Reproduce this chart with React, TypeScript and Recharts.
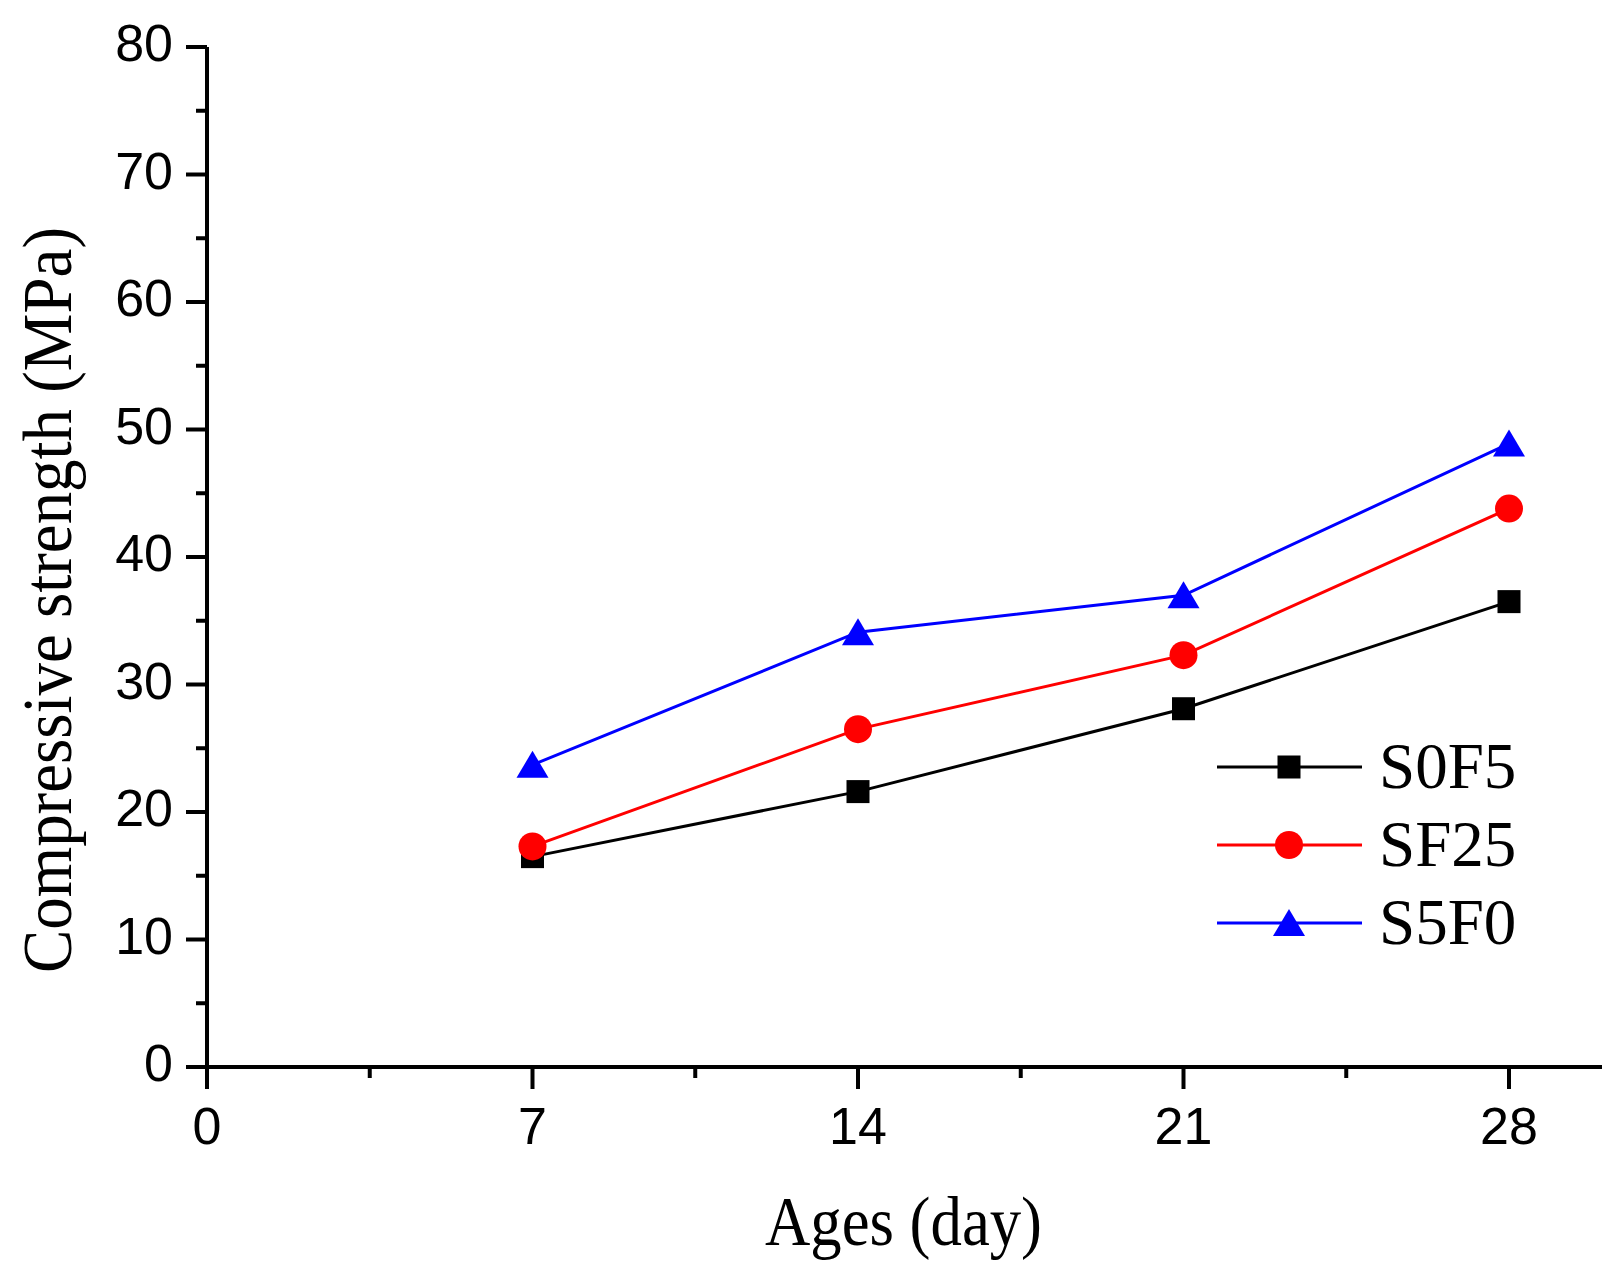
import React from 'react';
import { LineChart, Line, XAxis, YAxis, Legend, Label } from 'recharts';

const ages = [7, 14, 21, 28];
const s0f5 = [16.5, 21.6, 28.1, 36.5];
const sf25 = [17.3, 26.5, 32.3, 43.8];
const s5f0 = [23.7, 34.1, 37.0, 48.9];

const xTicks = [0, 3.5, 7, 10.5, 14, 17.5, 21, 24.5, 28];
const xLabels = [0, 7, 14, 21, 28];
const yTicks = [0, 5, 10, 15, 20, 25, 30, 35, 40, 45, 50, 55, 60, 65, 70, 75, 80];
const yLabels = [0, 10, 20, 30, 40, 50, 60, 70, 80];

const data = ages.map((age, i) => ({
    age,
    S0F5: s0f5[i],
    SF25: sf25[i],
    S5F0: s5f0[i],
}));

const sans = '"Liberation Sans", Arial, sans-serif';
const serif = '"Liberation Serif", "Times New Roman", serif';

const Marker = ({ kind, cx, cy, color }: { kind: string; cx: number; cy: number; color: string }) => {
    if (kind === 'square') return <rect x={cx - 11.5} y={cy - 11.5} width={23} height={23} fill={color} />;
    if (kind === 'circle') return <circle cx={cx} cy={cy} r={14} fill={color} />;
    return <polygon points={`${cx},${cy - 14} ${cx + 16},${cy + 13} ${cx - 16},${cy + 13}`} fill={color} />;
};

const series = [
    { key: 'S0F5', color: '#000000', kind: 'square' },
    { key: 'SF25', color: '#ff0000', kind: 'circle' },
    { key: 'S5F0', color: '#0000ff', kind: 'triangle' },
];

const XTick = (props: any) => {
    const { x, y, payload } = props;
    const major = xLabels.includes(payload.value);
    return (
        <g>
            <line x1={x} x2={x} y1={y} y2={y + (major ? 22 : 11)} stroke="#000" strokeWidth={4} />
            {major && (
                <text x={x} y={y + 77} textAnchor="middle" fontFamily={sans} fontSize={52} fill="#000">
                    {payload.value}
                </text>
            )}
        </g>
    );
};

const YTick = (props: any) => {
    const { x, y, payload } = props;
    const major = yLabels.includes(payload.value);
    return (
        <g>
            <line x1={x} x2={x - (major ? 21 : 11)} y1={y} y2={y} stroke="#000" strokeWidth={4} />
            {major && (
                <text x={x - 34} y={y + 14} textAnchor="end" fontFamily={sans} fontSize={52} fill="#000">
                    {payload.value}
                </text>
            )}
        </g>
    );
};

// legend drawn in series order, not alphabetical
const LegendBox = (props: any) => {
    const { payload = [] } = props;
    const items = series.filter((s) => payload.some((p: any) => p.value === s.key));
    return (
        <svg width={340} height={240} style={{ display: 'block', overflow: 'visible' }}>
            {items.map((s, i) => {
                const cy = 20 + i * 78;
                return (
                    <g key={s.key}>
                        <line x1={0} x2={145} y1={cy} y2={cy} stroke={s.color} strokeWidth={3} />
                        <Marker kind={s.kind} cx={72} cy={cy} color={s.color} />
                        <text x={162} y={cy + 21} fontFamily={serif} fontSize={65} fill="#000">
                            {s.key}
                        </text>
                    </g>
                );
            })}
        </svg>
    );
};

export default function App() {
    return (
        <div style={{ position: 'absolute', left: 0, top: 0, background: '#fff' }}>
            <LineChart
                width={1615}
                height={1273}
                data={data}
                margin={{ top: 47, right: 13, bottom: 0, left: 0 }}
            >
                <XAxis
                    dataKey="age"
                    type="number"
                    domain={[0, 30]}
                    ticks={xTicks}
                    interval={0}
                    height={206}
                    tickSize={0}
                    tickMargin={0}
                    tickLine={false}
                    axisLine={{ stroke: '#000', strokeWidth: 4 }}
                    tick={<XTick />}
                    allowDataOverflow
                >
                    <Label
                        content={(p: any) => {
                            const vb = p.viewBox;
                            return (
                                <text
                                    x={vb.x + vb.width / 2 - 1}
                                    y={vb.y + 178}
                                    textAnchor="middle"
                                    fontFamily={serif}
                                    fontSize={70}
                                    textLength={277}
                                    lengthAdjust="spacingAndGlyphs"
                                    fill="#000"
                                >
                                    Ages (day)
                                </text>
                            );
                        }}
                    />
                </XAxis>
                <YAxis
                    type="number"
                    domain={[0, 80]}
                    ticks={yTicks}
                    interval={0}
                    width={207}
                    tickSize={0}
                    tickMargin={0}
                    tickLine={false}
                    axisLine={{ stroke: '#000', strokeWidth: 4 }}
                    tick={<YTick />}
                >
                    <Label
                        content={() => (
                            <text
                                x={71}
                                y={600}
                                transform="rotate(-90 71 600)"
                                textAnchor="middle"
                                fontFamily={serif}
                                fontSize={70}
                                textLength={746}
                                lengthAdjust="spacingAndGlyphs"
                                fill="#000"
                            >
                                Compressive strength (MPa)
                            </text>
                        )}
                    />
                </YAxis>
                <Legend
                    layout="vertical"
                    align="center"
                    verticalAlign="middle"
                    content={<LegendBox />}
                    wrapperStyle={{ left: 1217, top: 747, width: 340, height: 240 }}
                />
                {series.map((s) => (
                    <Line
                        key={s.key}
                        dataKey={s.key}
                        stroke={s.color}
                        strokeWidth={3}
                        isAnimationActive={false}
                        dot={(p: any) => (
                            <Marker key={`${s.key}-${p.index}`} kind={s.kind} cx={p.cx} cy={p.cy} color={s.color} />
                        )}
                        activeDot={false}
                    />
                ))}
            </LineChart>
        </div>
    );
}
